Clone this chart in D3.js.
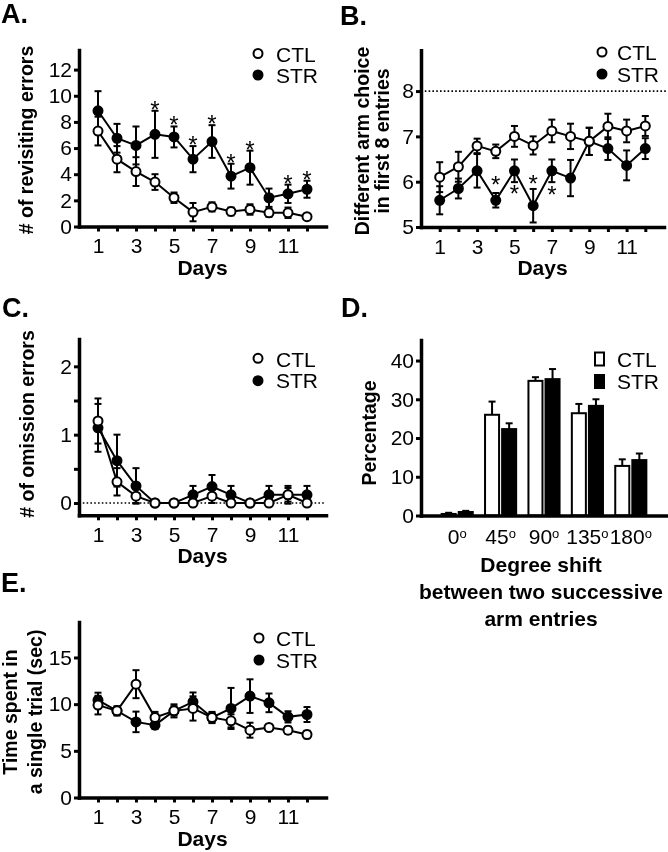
<!DOCTYPE html>
<html><head><meta charset="utf-8">
<script src="https://cdn.jsdelivr.net/npm/d3@7"></script>
<style>
body{margin:0;background:#fff}
svg{display:block;will-change:transform}
text{font-family:'Liberation Sans',Arial,sans-serif;fill:#000}
</style>
</head><body>
<svg id="c" width="668" height="852"></svg>
<script>
// ---------- DATA ----------
const days = [1,2,3,4,5,6,7,8,9,10,11,12];
const dayTickLabels = [1,3,5,7,9,11];
const seriesNames = ["CTL","STR"];

// A. # of revisiting errors
const aCtl    = [7.3, 5.15, 4.2, 3.4, 2.2, 1.1, 1.5, 1.15, 1.3, 1.05, 1.05, 0.75];
const aCtlErr = [1.1, 1.0, 1.1, 0.6, 0.4, 0.7, 0.35, 0.3, 0.4, 0.3, 0.4, 0.2];
const aStr    = [8.85, 6.75, 6.2, 7.05, 6.85, 5.15, 6.5, 3.85, 4.5, 2.2, 2.5, 2.85];
const aStrErr = [1.5, 1.1, 1.45, 1.8, 0.8, 1.0, 1.25, 0.95, 1.3, 0.7, 0.7, 0.65];
const aSigDays = [4,5,6,7,8,9,11,12];
const aTicks = [0,2,4,6,8,10,12];

// B. Different arm choice in first 8 entries
const bCtl    = [6.1, 6.33, 6.79, 6.67, 7.0, 6.8, 7.12, 7.0, 6.89, 7.22, 7.12, 7.23];
const bCtlErr = [0.33, 0.33, 0.16, 0.15, 0.23, 0.2, 0.25, 0.28, 0.3, 0.28, 0.25, 0.22];
const bStr    = [5.59, 5.85, 6.24, 5.59, 6.24, 5.47, 6.24, 6.08, 6.89, 6.73, 6.36, 6.73];
const bStrErr = [0.31, 0.22, 0.37, 0.16, 0.25, 0.37, 0.25, 0.4, 0.3, 0.25, 0.33, 0.23];
const bSigDays = [4,5,6,7];
const bSigVals = [6.04, 5.86, 6.06, 5.82];
const bTicks = [5,6,7,8];
const bRef = 8;

// C. # of omission errors
const cCtl    = [1.2, 0.31, 0.1, 0, 0, 0, 0.1, 0, 0, 0, 0.12, 0];
const cCtlErr = [0.33, 0.2, 0.1, 0, 0, 0, 0.1, 0, 0, 0, 0.1, 0];
const cStr    = [1.1, 0.62, 0.25, 0, 0, 0.12, 0.24, 0.12, 0, 0.12, 0.12, 0.12];
const cStrErr = [0.35, 0.38, 0.26, 0, 0, 0.13, 0.17, 0.13, 0, 0.13, 0.13, 0.13];
const cTicks = [0,0.5,1,1.5,2];
const cRef = 0;

// D. Degree shift distribution
const degrees = ["0","45","90","135","180"];
const dCtl    = [0.4, 26.0, 34.75, 26.4, 12.8];
const dCtlErr = [0.3, 3.4, 0.95, 2.4, 1.7];
const dStr    = [0.9, 22.3, 35.2, 28.3, 14.3];
const dStrErr = [0.3, 1.5, 2.6, 1.7, 1.7];
const dTicks = [0,10,20,30,40];

// E. Time spent in a single trial
const eCtl    = [9.9, 9.28, 12.14, 8.57, 9.28, 9.54, 8.57, 8.21, 7.21, 7.5, 7.21, 6.75];
const eCtlErr = [1.0, 0.5, 1.5, 0.6, 0.7, 1.3, 0.6, 0.7, 0.8, 0.3, 0.4, 0.4];
const eStr    = [10.43, 9.28, 8.1, 7.75, 9.28, 10.25, 8.57, 9.54, 10.86, 10.14, 8.64, 8.89];
const eStrErr = [0.8, 0.4, 1.1, 0.4, 0.5, 1.0, 0.5, 2.2, 1.8, 1.0, 0.6, 0.8];
const eTicks = [0,5,10,15];

// ---------- DRAWING ----------
const FONT = "'Liberation Sans', Arial, sans-serif";
const svg = d3.select("#c");
svg.append("rect").attr("width",668).attr("height",852).attr("fill","#fff");

function styleAxis(sel, fs) {
  sel.attr("font-family", FONT).attr("font-size", fs || 21);
  sel.select(".domain").attr("stroke","#000").attr("stroke-width",3.5).attr("stroke-linecap","square");
  sel.selectAll(".tick line").attr("stroke","#000").attr("stroke-width",3);
  sel.selectAll(".tick text").attr("fill","#000");
}

function panelLetter(txt, x, y) {
  svg.append("text").attr("x",x).attr("y",y).attr("font-size",27).attr("font-weight","bold").text(txt);
}

function rotTitle(lines, xs, cy) {
  lines.forEach((t,i) => {
    svg.append("text").attr("transform",`translate(${xs[i]},${cy}) rotate(-90)`)
      .attr("text-anchor","middle").attr("font-size",19.5).attr("font-weight","bold").text(t);
  });
}

function circleLegend(x, yc, yb, tx) {
  seriesNames.forEach((n,i) => {
    svg.append("circle").attr("cx",x).attr("cy",yc[i]).attr("r",4.5)
      .attr("fill", n === "CTL" ? "#fff" : "#000").attr("stroke","#000").attr("stroke-width",2);
    svg.append("text").attr("x",tx).attr("y",yb[i]).attr("font-size",21).text(n);
  });
}

function linePanel(o) {
  const g = svg.append("g");
  const x = d3.scaleLinear().domain([0,13]).range(o.xr);
  const y = d3.scaleLinear().domain(o.yd).range(o.yr);
  if (o.ref !== undefined) {
    g.append("line").attr("x1",x(0)).attr("x2",o.refEnd || x(13))
      .attr("y1",y(o.ref)).attr("y2",y(o.ref))
      .attr("stroke","#000").attr("stroke-width",1.6).attr("stroke-dasharray","1.6,2.2");
  }
  const yAx = g.append("g").attr("transform",`translate(${x(0)},0)`)
    .call(d3.axisLeft(y).tickValues(o.yTicks).tickFormat(d => Number.isInteger(d) ? d : "")
      .tickSize(5).tickSizeOuter(0).tickPadding(2));
  styleAxis(yAx);
  const xAx = g.append("g").attr("transform",`translate(0,${y(o.yd[0])})`)
    .call(d3.axisBottom(x).tickValues(days).tickFormat(d => dayTickLabels.includes(d) ? d : "")
      .tickSize(5).tickSizeOuter(0).tickPadding(7));
  styleAxis(xAx);
  g.append("text").attr("x",x(6.5)).attr("y",y(o.yd[0]) + 48).attr("text-anchor","middle")
    .attr("font-size",21).attr("font-weight","bold").text("Days");

  const sets = [
    {v:o.str, e:o.strErr, fill:"#000"},
    {v:o.ctl, e:o.ctlErr, fill:"#fff"}
  ];
  const line = d3.line().x((d,i) => x(days[i])).y(d => y(d));
  sets.forEach(s => g.append("path").datum(s.v).attr("d",line)
    .attr("fill","none").attr("stroke","#000").attr("stroke-width",2));
  sets.forEach(s => {
    const pts = s.v.map((v,i) => ({d:days[i], v, e:s.e[i]})).filter(p => p.e > 0);
    const eg = g.append("g").attr("stroke","#000").attr("stroke-width",2);
    eg.selectAll(".v").data(pts).join("line")
      .attr("x1",p=>x(p.d)).attr("x2",p=>x(p.d)).attr("y1",p=>y(p.v-p.e)).attr("y2",p=>y(p.v+p.e));
    eg.selectAll(".t").data(pts).join("line")
      .attr("x1",p=>x(p.d)-3.5).attr("x2",p=>x(p.d)+3.5).attr("y1",p=>y(p.v+p.e)).attr("y2",p=>y(p.v+p.e));
    eg.selectAll(".b").data(pts).join("line")
      .attr("x1",p=>x(p.d)-3.5).attr("x2",p=>x(p.d)+3.5).attr("y1",p=>y(p.v-p.e)).attr("y2",p=>y(p.v-p.e));
  });
  sets.forEach(s => g.append("g").selectAll("circle").data(s.v).join("circle")
    .attr("cx",(d,i)=>x(days[i])).attr("cy",d=>y(d)).attr("r",4.5)
    .attr("fill",s.fill).attr("stroke","#000").attr("stroke-width",2));
  return {x, y, g};
}

// ----- Panel A -----
panelLetter("A.", 1, 23);
const pA = linePanel({xr:[79,326], yd:[0,13.5], yr:[226.5,50], yTicks:aTicks,
  ctl:aCtl, ctlErr:aCtlErr, str:aStr, strErr:aStrErr});
pA.g.append("g").selectAll("text").data(aSigDays).join("text")
  .attr("x", d => pA.x(d)).attr("y", d => pA.y(aStr[d-1] + aStrErr[d-1]) + 7)
  .attr("text-anchor","middle").attr("font-size",24).attr("fill","#000").text("*");
rotTitle(["# of revisiting errors"], [33], 140);
circleLegend(258, [53.5,75], [62,83], 276);

// ----- Panel B -----
panelLetter("B.", 340, 25);
const pB = linePanel({xr:[421,664], yd:[5,8.9], yr:[227,50.3], yTicks:bTicks,
  ctl:bCtl, ctlErr:bCtlErr, str:bStr, strErr:bStrErr, ref:bRef, refEnd:668});
pB.g.append("g").selectAll("text").data(bSigDays).join("text")
  .attr("x", d => pB.x(d)).attr("y", (d,i) => pB.y(bSigVals[i]) + 13.5)
  .attr("text-anchor","middle").attr("font-size",24).attr("fill","#000").text("*");
rotTitle(["Different arm choice","in first 8 entries"], [369,389], 141);
circleLegend(602, [52,74], [60,82], 617);

// ----- Panel C -----
panelLetter("C.", 2, 317);
linePanel({xr:[79,326], yd:[-0.18,2.4], yr:[515.3,339], yTicks:cTicks,
  ctl:cCtl, ctlErr:cCtlErr, str:cStr, strErr:cStrErr, ref:cRef});
rotTitle(["# of omission errors"], [34], 424);
circleLegend(258, [358.3,380.7], [366.7,388.3], 276);

// ----- Panel D -----
panelLetter("D.", 341, 317);
(function(){
  const g = svg.append("g");
  const x0 = d3.scaleBand().domain(degrees).range([421,667]).paddingInner(0.26).paddingOuter(0.464);
  const x1 = d3.scaleBand().domain(seriesNames).range([0,x0.bandwidth()]).paddingInner(0.12);
  const y = d3.scaleLinear().domain([0,45.3]).range([515.5,340]);
  const rows = degrees.map((d,i) => [
    {deg:d, s:"CTL", v:dCtl[i], e:dCtlErr[i]},
    {deg:d, s:"STR", v:dStr[i], e:dStrErr[i]}
  ]).flat();
  const eg = g.append("g").attr("stroke","#000").attr("stroke-width",2);
  eg.selectAll(".v").data(rows).join("line")
    .attr("x1",r=>x0(r.deg)+x1(r.s)+x1.bandwidth()/2).attr("x2",r=>x0(r.deg)+x1(r.s)+x1.bandwidth()/2)
    .attr("y1",r=>y(r.v)).attr("y2",r=>y(r.v+r.e));
  eg.selectAll(".c").data(rows).join("line")
    .attr("x1",r=>x0(r.deg)+x1(r.s)+x1.bandwidth()/2-3.5).attr("x2",r=>x0(r.deg)+x1(r.s)+x1.bandwidth()/2+3.5)
    .attr("y1",r=>y(r.v+r.e)).attr("y2",r=>y(r.v+r.e));
  g.append("g").selectAll("rect").data(rows).join("rect")
    .attr("x",r=>x0(r.deg)+x1(r.s)+0.5).attr("width",x1.bandwidth()-1)
    .attr("y",r=>y(r.v)).attr("height",r=>y(0)-y(r.v))
    .attr("fill",r=>r.s==="CTL"?"#fff":"#000").attr("stroke","#000").attr("stroke-width",2);
  const yAx = g.append("g").attr("transform",`translate(421,0)`)
    .call(d3.axisLeft(y).tickValues(dTicks).tickSize(5).tickSizeOuter(0).tickPadding(2));
  styleAxis(yAx);
  const xAx = g.append("g").attr("transform",`translate(0,${y(0)})`)
    .call(d3.axisBottom(x0).tickSize(0).tickPadding(13.5));
  styleAxis(xAx);
  xAx.selectAll(".tick text").each(function(d){
    const t = d3.select(this).text(d);
    t.append("tspan").attr("font-size",13).attr("dy","-0.45em").text("o");
  });
  ["Degree shift","between two successive","arm entries"].forEach((t,i) =>
    g.append("text").attr("x",541).attr("y",572 + i*27).attr("text-anchor","middle")
      .attr("font-size",21).attr("font-weight","bold").text(t));
  rotTitle(["Percentage"], [376], 433);
  seriesNames.forEach((n,i) => {
    g.append("rect").attr("x",595).attr("y",[352.5,375][i]).attr("width",9).attr("height",13)
      .attr("fill", n==="CTL"?"#fff":"#000").attr("stroke","#000").attr("stroke-width",2);
    g.append("text").attr("x",617).attr("y",[366.7,388.5][i]).attr("font-size",21).text(n);
  });
})();

// ----- Panel E -----
panelLetter("E.", 1, 592);
linePanel({xr:[79,326], yd:[0,18.8], yr:[797.5,622], yTicks:eTicks,
  ctl:eCtl, ctlErr:eCtlErr, str:eStr, strErr:eStrErr});
rotTitle(["Time spent in","a single trial (sec)"], [17,42], 712);
circleLegend(259, [638,660], [646,668], 276);
</script>
</body></html>
